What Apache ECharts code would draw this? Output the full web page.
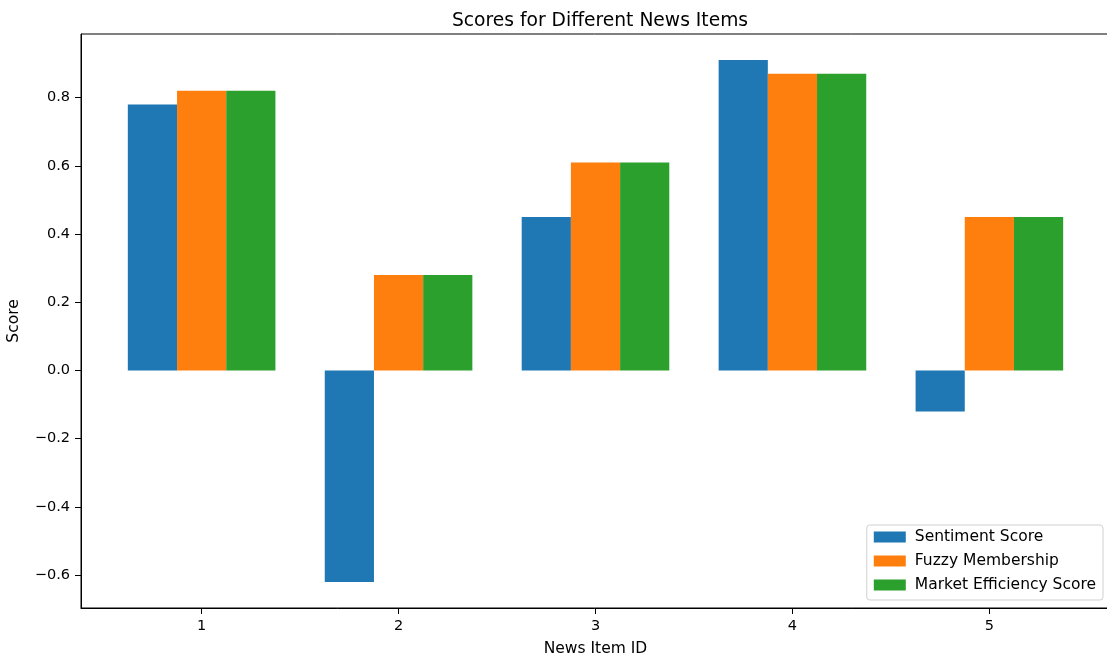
<!DOCTYPE html>
<html>
<head>
<meta charset="utf-8">
<script src="https://cdn.jsdelivr.net/npm/echarts@6/dist/echarts.min.js"></script>
<style>
    html, body { margin: 0; padding: 0; background: #fff; }
    #chart { width: 1107px; height: 659px; }
</style>
</head>
<body>
<div id="chart"></div>
<script>
// news item ids and the three scores per item
const newsIds = [1, 2, 3, 4, 5]
const sentimentScore = [0.78, -0.62, 0.45, 0.91, -0.12]
const fuzzyMembership = [0.82, 0.28, 0.61, 0.87, 0.45]
const marketEfficiency = [0.82, 0.28, 0.61, 0.87, 0.45]
const yTicks = [-0.6, -0.4, -0.2, 0.0, 0.2, 0.4, 0.6, 0.8]

const seriesNames = ['Sentiment Score', 'Fuzzy Membership', 'Market Efficiency Score']
const colors = ['#1f77b4', '#ff7f0e', '#2ca02c']
const font = 'DejaVu Sans'

const buildSeries = () => {
    let all = [sentimentScore, fuzzyMembership, marketEfficiency]
    return all.map((values, index) => ({
        name: seriesNames[index],
        type: 'bar',
        barWidth: 49.2,
        barGap: '0%',
        itemStyle: { color: colors[index] },
        data: newsIds.map((id, i) => [id, values[i]])
    }))
}

let chart = echarts.init(document.getElementById('chart'))
chart.setOption({
    animation: false,
    title: {
        text: 'Scores for Different News Items',
        left: 595,
        top: 7,
        textAlign: 'center',
        textStyle: { fontFamily: font, fontSize: 18.7, fontWeight: 'normal', color: '#000' }
    },
    legend: {
        orient: 'vertical',
        right: 4,
        bottom: 59,
        icon: 'rect',
        itemWidth: 32,
        itemHeight: 11,
        itemGap: 8,
        padding: [4, 7, 7, 7],
        borderColor: '#d0d0d0',
        borderWidth: 1,
        borderRadius: 3,
        backgroundColor: 'rgba(255,255,255,0.8)',
        textStyle: { fontFamily: font, fontSize: 15.5, color: '#000', lineHeight: 16, padding: [0, 0, 0, 4] },
        data: seriesNames
    },
    grid: {
        left: 81,
        right: -3,
        top: 34,
        bottom: 51,
        outerBoundsMode: 'none',
        show: true,
        borderColor: '#000',
        borderWidth: 1
    },
    xAxis: {
        type: 'value',
        min: 0.3875,
        max: 5.6125,
        name: 'News Item ID',
        nameLocation: 'middle',
        nameGap: 33,
        nameTextStyle: { fontFamily: font, fontSize: 15.5, color: '#000' },
        splitLine: { show: false },
        axisLine: { show: true, onZero: false, lineStyle: { color: '#000' } },
        axisTick: { show: true, length: 6, lineStyle: { color: '#000' }, customValues: newsIds },
        axisLabel: {
            margin: 11,
            fontFamily: font,
            fontSize: 14.5,
            color: '#000',
            customValues: newsIds
        }
    },
    yAxis: {
        type: 'value',
        min: -0.6965,
        max: 0.9865,
        name: 'Score',
        nameLocation: 'middle',
        nameGap: 59,
        nameTextStyle: { fontFamily: font, fontSize: 15.5, color: '#000' },
        splitLine: { show: false },
        axisLine: { show: true, onZero: false, lineStyle: { color: '#000' } },
        axisTick: { show: true, length: 6, lineStyle: { color: '#000' }, customValues: yTicks },
        axisLabel: {
            margin: 11,
            fontFamily: font,
            fontSize: 14.5,
            color: '#000',
            customValues: yTicks,
            formatter: v => v.toFixed(1).replace('-', '\u2212')
        }
    },
    series: buildSeries()
})
</script>
</body>
</html>
